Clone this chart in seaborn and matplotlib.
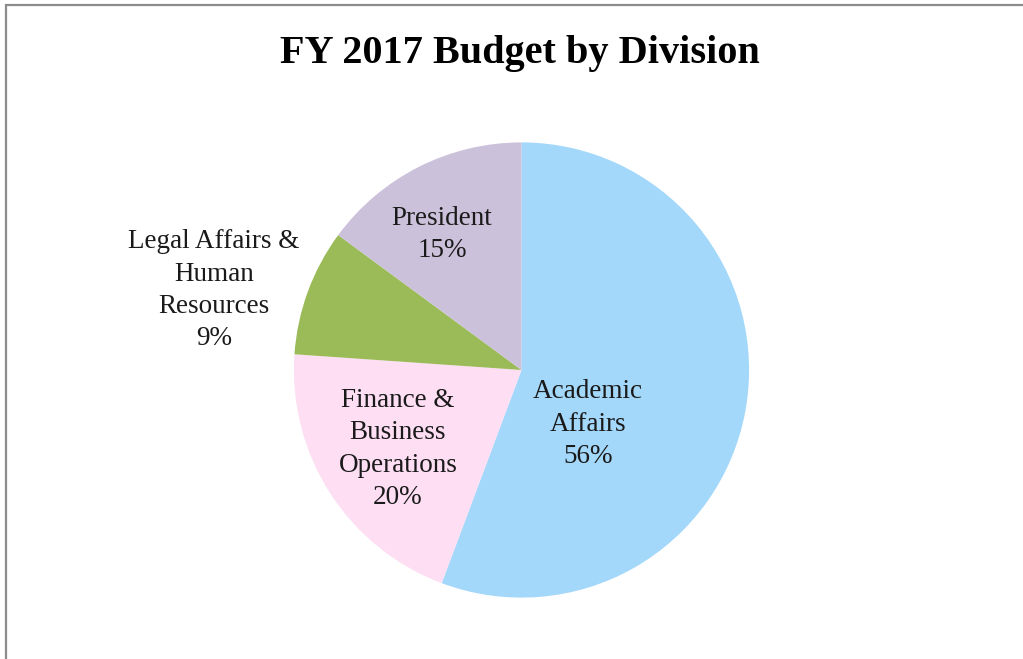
import matplotlib
matplotlib.use("Agg")
import matplotlib.pyplot as plt
import seaborn as sns
from matplotlib.patches import Rectangle

sns.set_theme(style="white")
plt.rcParams["font.family"] = ["Liberation Serif", "DejaVu Serif"]

# data
divisions = ["Academic\nAffairs", "Finance &\nBusiness\nOperations",
             "Legal Affairs &\nHuman\nResources", "President"]
shares = [55.7, 20.4, 9.0, 14.9]
colors = ["#A4D8FA", "#FDDEF3", "#9BBB59", "#CCC1DA"]

# label anchor points in pie units (radius = 1)
label_pos = [(0.292, -0.238), (-0.543, -0.348), (-1.351, 0.350), (-0.349, 0.596)]

fig = plt.figure(figsize=(10.23, 6.59), dpi=100)
fig.patch.set_facecolor("white")

r_px, cx, cy = 227.6, 521.5, 370.0
W, H = 1023, 659
ax = fig.add_axes([(cx - r_px) / W, (H - cy - r_px) / H, 2 * r_px / W, 2 * r_px / H])
ax.pie(shares, colors=colors, startangle=90, counterclock=False, radius=1,
       wedgeprops=dict(linewidth=0))
ax.set_xlim(-1, 1)
ax.set_ylim(-1, 1)
ax.set_aspect("equal")
ax.axis("off")

for name, val, (x, y) in zip(divisions, shares, label_pos):
    ax.text(x, y, f"{name}\n{round(val)}%", ha="center", va="center",
            multialignment="center", fontsize=19.5, linespacing=1.39, color="#1a1a1a",
            clip_on=False)

fig.text((280 + 759) / 2 / W, 1 - 63 / H, "FY 2017 Budget by Division",
         ha="center", va="baseline", fontsize=29, fontweight="bold", color="black")

# frame like the original chart border
fig.patches.append(Rectangle((5.5 / W, -0.1), 1.2, 1 - 4.5 / H + 0.1,
                             transform=fig.transFigure, fill=False,
                             edgecolor="#8c8c8c", linewidth=1.6))

fig.savefig("out.png", dpi=100)
